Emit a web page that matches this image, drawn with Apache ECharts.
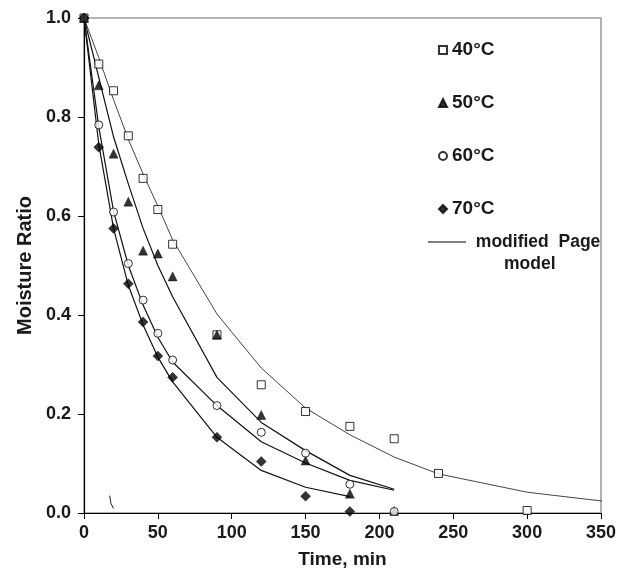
<!DOCTYPE html>
<html>
<head>
<meta charset="utf-8">
<title>Moisture ratio</title>
<script src="https://cdn.jsdelivr.net/npm/echarts@6/dist/echarts.min.js"></script>
<style>
  html, body { margin: 0; padding: 0; background: #fff; }
  #chart { width: 619px; height: 575px; }
</style>
</head>
<body>
<div id="chart"></div>
<script>
// measured points (time in min, moisture ratio)
var t40 = [0, 10, 20, 30, 40, 50, 60, 90, 120, 150, 180, 210, 240, 300];
var mr40 = [1.0, 0.907, 0.853, 0.762, 0.676, 0.613, 0.543, 0.360, 0.259, 0.205, 0.175, 0.150, 0.080, 0.005];
var t50 = [0, 10, 20, 30, 40, 50, 60, 90, 120, 150, 180, 210];
var mr50 = [1.0, 0.864, 0.726, 0.629, 0.530, 0.524, 0.478, 0.360, 0.198, 0.106, 0.039, 0.004];
var t60 = [0, 10, 20, 30, 40, 50, 60, 90, 120, 150, 180, 210];
var mr60 = [1.0, 0.784, 0.608, 0.504, 0.430, 0.363, 0.309, 0.217, 0.163, 0.121, 0.058, 0.003];
var t70 = [0, 10, 20, 30, 40, 50, 60, 90, 120, 150, 180];
var mr70 = [1.0, 0.739, 0.575, 0.463, 0.386, 0.317, 0.274, 0.153, 0.104, 0.034, 0.003];

// modified Page model curves
var tm40 = [0, 10, 20, 30, 40, 50, 60, 90, 120, 150, 180, 210, 240, 300, 354];
var fit40 = [1.0, 0.92, 0.835, 0.755, 0.685, 0.62, 0.552, 0.402, 0.293, 0.212, 0.158, 0.113, 0.079, 0.042, 0.023];
var tm50 = [0, 10, 20, 30, 40, 50, 60, 90, 120, 150, 180, 210];
var fit50 = [1.0, 0.88, 0.76, 0.665, 0.575, 0.50, 0.437, 0.274, 0.183, 0.126, 0.076, 0.048];
var tm60 = [0, 10, 20, 30, 40, 50, 60, 90, 120, 150, 180, 210];
var fit60 = [1.0, 0.78, 0.61, 0.50, 0.42, 0.355, 0.305, 0.217, 0.144, 0.101, 0.066, 0.046];
var tm70 = [0, 10, 20, 30, 40, 50, 60, 90, 120, 150, 180];
var fit70 = [1.0, 0.745, 0.575, 0.46, 0.38, 0.315, 0.265, 0.153, 0.086, 0.052, 0.033];

// small stray stroke near the x axis
var tStray = [17.4, 18.3, 20.0];
var mrStray = [0.035, 0.019, 0.009];

var xTicks = [0, 50, 100, 150, 200, 250, 300, 350];

function pairs(xs, ys) {
    var out = [];
    for (var i = 0; i < xs.length; i++) out.push([xs[i], ys[i]]);
    return out;
}

var font = '"Liberation Sans", Arial, sans-serif';
var chart = echarts.init(document.getElementById('chart'));

function fitLine(name, xs, ys, color, width) {
    return {
        name: name,
        type: 'line',
        data: pairs(xs, ys),
        symbol: 'none',
        clip: false,
        silent: true,
        lineStyle: { color: color, width: width },
        z: 2
    };
}

function points(name, xs, ys, symbol, size, filled) {
    return {
        name: name,
        type: 'scatter',
        data: pairs(xs, ys),
        symbol: symbol,
        symbolSize: size,
        clip: false,
        itemStyle: filled ? { color: '#000', borderColor: '#000', borderWidth: 0.5 }
                          : { color: '#fff', borderColor: '#000', borderWidth: 1 },
        z: 3
    };
}

var option = {
    animation: false,
    backgroundColor: '#fff',
    textStyle: { fontFamily: font },
    grid: {
        left: 84, right: 16, top: 18, bottom: 62,
        show: true, borderColor: '#9a9a9a', borderWidth: 1.5
    },
    legend: [{
        data: ['40°C', '50°C', '60°C', '70°C'],
        orient: 'vertical',
        left: 433, top: 35,
        itemWidth: 8, itemHeight: 8,
        itemGap: 33,
        selectedMode: false,
        textStyle: { fontFamily: font, fontWeight: 'bold', fontSize: 19, lineHeight: 20, color: '#1a1a1a' }
    }, {
        data: ['modified Page model'],
        orient: 'vertical',
        left: 423, top: 227,
        icon: 'rect',
        itemWidth: 38, itemHeight: 1.2,
        selectedMode: false,
        itemStyle: { color: '#000' },
        formatter: function () { return ' modified  Page'; },
        textStyle: { fontFamily: font, fontWeight: 'bold', fontSize: 17.5, lineHeight: 20, color: '#1a1a1a' }
    }],
    graphic: [{
        type: 'text',
        left: 504, top: 255,
        style: { text: 'model', font: 'bold 17.5px ' + font, fill: '#1a1a1a' }
    }],
    xAxis: {
        type: 'value',
        min: 0, max: 350, interval: 50,
        name: 'Time, min',
        nameLocation: 'middle',
        nameGap: 37,
        nameTextStyle: { fontFamily: font, fontWeight: 'bold', fontSize: 19, color: '#1a1a1a' },
        axisLine: { lineStyle: { color: '#000', width: 1.2 } },
        axisTick: { length: 6, lineStyle: { color: '#000' }, customValues: xTicks },
        axisLabel: { margin: 11, fontFamily: font, fontWeight: 'bold', fontSize: 18, color: '#1a1a1a', customValues: xTicks },
        splitLine: { show: false }
    },
    yAxis: {
        type: 'value',
        min: 0, max: 1, interval: 0.2,
        name: 'Moisture Ratio',
        nameLocation: 'middle',
        nameGap: 49,
        nameTextStyle: { fontFamily: font, fontWeight: 'bold', fontSize: 20, color: '#1a1a1a' },
        axisLine: { lineStyle: { color: '#000', width: 1.2 } },
        axisTick: { length: 6, lineStyle: { color: '#000' } },
        axisLabel: {
            margin: 13, fontFamily: font, fontWeight: 'bold', fontSize: 18, color: '#1a1a1a',
            formatter: function (v) { return v.toFixed(1); }
        },
        splitLine: { show: false }
    },
    series: [
        fitLine('modified Page model', tm40, fit40, '#444', 1),
        fitLine('fit50', tm50, fit50, '#111', 1.2),
        fitLine('fit60', tm60, fit60, '#111', 1.2),
        fitLine('fit70', tm70, fit70, '#111', 1.2),
        fitLine('stray', tStray, mrStray, '#222', 1),
        points('40°C', t40, mr40, 'rect', 8, false),
        points('50°C', t50, mr50, 'triangle', 9, true),
        points('60°C', t60, mr60, 'circle', 8, false),
        points('70°C', t70, mr70, 'diamond', 10, true)
    ]
};

chart.setOption(option);
</script>
</body>
</html>
